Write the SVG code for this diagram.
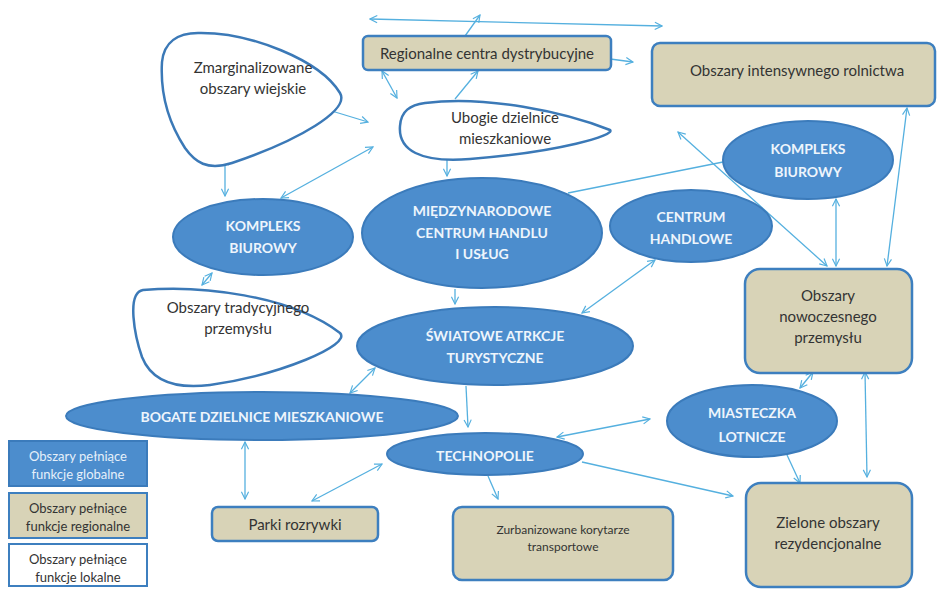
<svg xmlns="http://www.w3.org/2000/svg" width="938" height="589" viewBox="0 0 938 589">
<style>
text{font-family:Lato,"Open Sans","Liberation Sans",sans-serif;text-anchor:middle;dominant-baseline:central}
.ell{fill:#4c8dcd;stroke:#3b7bbb;stroke-width:2}
.et{fill:#eef5fc;font-weight:bold;font-size:14px}
.box{fill:#d8d3b7;stroke:#3d7fbf;stroke-width:2.5}
.bt{fill:#333;font-size:15px}
.blob{fill:#fff;stroke:#3b79b7;stroke-width:2.5}
.conn line,.conn path{stroke:#55b0df;stroke-width:1.3;fill:none}
.lg{font-size:13px}
</style>
<defs>
<marker id="ah" viewBox="0 0 10 10" refX="9" refY="5" markerWidth="9" markerHeight="9" markerUnits="userSpaceOnUse" orient="auto-start-reverse">
<path d="M1,1 L9,5 L1,9" fill="none" stroke="#55b0df" stroke-width="1.3"/>
</marker>
</defs>
<rect width="938" height="589" fill="#fff"/>

<g class="conn">
<line x1="370" y1="19" x2="662" y2="26" marker-start="url(#ah)" marker-end="url(#ah)"/>
<line x1="465" y1="36" x2="480" y2="15" marker-end="url(#ah)"/>
<line x1="595" y1="57" x2="633" y2="62" marker-start="url(#ah)" marker-end="url(#ah)"/>
<line x1="382" y1="71" x2="397" y2="98" marker-start="url(#ah)" marker-end="url(#ah)"/>
<line x1="455" y1="99" x2="478" y2="71" marker-end="url(#ah)"/>
<line x1="312" y1="105" x2="368" y2="122" marker-start="url(#ah)" marker-end="url(#ah)"/>
<line x1="373" y1="147" x2="281" y2="198" marker-start="url(#ah)" marker-end="url(#ah)"/>
<line x1="225" y1="158" x2="225" y2="196" marker-start="url(#ah)" marker-end="url(#ah)"/>
<line x1="212" y1="273" x2="202" y2="285" marker-start="url(#ah)" marker-end="url(#ah)"/>
<line x1="447" y1="160" x2="447" y2="176" marker-end="url(#ah)"/>
<line x1="455" y1="289" x2="455" y2="304" marker-end="url(#ah)"/>
<line x1="568" y1="193" x2="723" y2="162"/>
<line x1="678" y1="132" x2="827" y2="266" marker-start="url(#ah)" marker-end="url(#ah)"/>
<line x1="836" y1="199" x2="836" y2="266" marker-start="url(#ah)" marker-end="url(#ah)"/>
<line x1="907" y1="108" x2="887" y2="266" marker-start="url(#ah)" marker-end="url(#ah)"/>
<line x1="655" y1="260" x2="582" y2="313" marker-start="url(#ah)" marker-end="url(#ah)"/>
<line x1="813" y1="372" x2="800" y2="388" marker-start="url(#ah)" marker-end="url(#ah)"/>
<line x1="865" y1="372" x2="867" y2="477" marker-start="url(#ah)" marker-end="url(#ah)"/>
<line x1="787" y1="455" x2="800" y2="483" marker-end="url(#ah)"/>
<line x1="557" y1="437" x2="650" y2="419" marker-start="url(#ah)" marker-end="url(#ah)"/>
<line x1="582" y1="462" x2="733" y2="496" marker-end="url(#ah)"/>
<line x1="488" y1="476" x2="498" y2="499" marker-end="url(#ah)"/>
<line x1="466" y1="386" x2="468" y2="427" marker-end="url(#ah)"/>
<line x1="375" y1="368" x2="350" y2="393" marker-start="url(#ah)" marker-end="url(#ah)"/>
<line x1="245" y1="442" x2="245" y2="499" marker-start="url(#ah)" marker-end="url(#ah)"/>
<line x1="312" y1="501" x2="382" y2="464" marker-start="url(#ah)" marker-end="url(#ah)"/>
</g>

<g id="regionalne-centra">
<rect class="box" x="363" y="36" width="248" height="34" rx="5"/>
<text class="bt" x="487" y="53">Regionalne centra dystrybucyjne</text>
</g>
<g id="intensywne-rolnictwo">
<rect class="box" x="652" y="43" width="283" height="63" rx="8"/>
<text class="bt" x="797" y="70">Obszary intensywnego rolnictwa</text>
</g>
<g id="zmarginalizowane">
<path class="blob" d="M198,33 C250,32 320,60 340,93 C350,110 300,140 232,163 C207,171 195,162 185,148 C170,125 160,95 162,62 C164,42 178,33 198,33 Z"/>
<text class="bt" x="253" y="67">Zmarginalizowane</text>
<text class="bt" x="253" y="88">obszary wiejskie</text>
</g>
<g id="ubogie-dzielnice">
<path class="blob" d="M425,103 C485,95 565,112 610,130 C616,135 560,152 470,159 C420,163 398,150 400,126 C401,111 410,105 425,103 Z"/>
<text class="bt" x="505" y="117">Ubogie dzielnice</text>
<text class="bt" x="505" y="138">mieszkaniowe</text>
</g>
<g id="kompleks-biurowy-1">
<ellipse class="ell" cx="263" cy="237" rx="90" ry="38"/>
<text class="et" x="263" y="225">KOMPLEKS</text>
<text class="et" x="263" y="247">BIUROWY</text>
</g>
<g id="tradycyjny-przemysl">
<path class="blob" d="M143,290 C200,285 290,295 340,333 C352,345 280,375 210,385 C170,390 150,377 142,357 C135,337 126,293 143,290 Z"/>
<text class="bt" x="238" y="307">Obszary tradycyjnego</text>
<text class="bt" x="238" y="328">przemysłu</text>
</g>
<g id="miedzynarodowe-centrum">
<ellipse class="ell" cx="482" cy="233" rx="120" ry="55"/>
<text class="et" x="482" y="210">MIĘDZYNARODOWE</text>
<text class="et" x="482" y="232">CENTRUM HANDLU</text>
<text class="et" x="482" y="253">I USŁUG</text>
</g>
<g id="centrum-handlowe">
<ellipse class="ell" cx="691" cy="226" rx="81" ry="36"/>
<text class="et" x="691" y="216">CENTRUM</text>
<text class="et" x="691" y="238">HANDLOWE</text>
</g>
<g id="kompleks-biurowy-2">
<ellipse class="ell" cx="808" cy="160" rx="85" ry="39"/>
<text class="et" x="808" y="148">KOMPLEKS</text>
<text class="et" x="808" y="171">BIUROWY</text>
</g>
<g id="nowoczesny-przemysl">
<rect class="box" x="745" y="269" width="167" height="104" rx="15"/>
<text class="bt" x="828" y="295">Obszary</text>
<text class="bt" x="828" y="316">nowoczesnego</text>
<text class="bt" x="828" y="337">przemysłu</text>
</g>
<g id="swiatowe-atrakcje">
<ellipse class="ell" cx="495" cy="346" rx="138" ry="39"/>
<text class="et" x="495" y="335">ŚWIATOWE ATRKCJE</text>
<text class="et" x="495" y="357">TURYSTYCZNE</text>
</g>
<g id="bogate-dzielnice">
<ellipse class="ell" cx="262" cy="416" rx="196" ry="24"/>
<text class="et" x="262" y="416">BOGATE DZIELNICE MIESZKANIOWE</text>
</g>
<g id="technopolie">
<ellipse class="ell" cx="485" cy="454" rx="98" ry="21"/>
<text class="et" x="485" y="455">TECHNOPOLIE</text>
</g>
<g id="miasteczka-lotnicze">
<ellipse class="ell" cx="752" cy="421" rx="85" ry="36"/>
<text class="et" x="752" y="412">MIASTECZKA</text>
<text class="et" x="752" y="436">LOTNICZE</text>
</g>
<g id="parki-rozrywki">
<rect class="box" x="212" y="507" width="166" height="34" rx="6"/>
<text class="bt" x="295" y="524">Parki rozrywki</text>
</g>
<g id="korytarze-transportowe">
<rect class="box" x="453" y="507" width="220" height="73" rx="9"/>
<text class="bt" x="563" y="529" style="font-size:12px">Zurbanizowane korytarze</text>
<text class="bt" x="563" y="546" style="font-size:12px">transportowe</text>
</g>
<g id="zielone-obszary">
<rect class="box" x="746" y="483" width="166" height="104" rx="15"/>
<text class="bt" x="828" y="522">Zielone obszary</text>
<text class="bt" x="828" y="543">rezydencjonalne</text>
</g>

<g id="legenda-globalne">
<rect x="9" y="441" width="138" height="45" fill="#4c8dcd" stroke="#3b7bbb" stroke-width="2"/>
<text class="lg" x="78" y="456" fill="#e6f0fa">Obszary pełniące</text>
<text class="lg" x="78" y="474" fill="#e6f0fa">funkcje globalne</text>
</g>
<g id="legenda-regionalne">
<rect x="9" y="493" width="138" height="45" fill="#d8d3b7" stroke="#3d7fbf" stroke-width="2"/>
<text class="lg" x="78" y="508" fill="#333">Obszary pełniące</text>
<text class="lg" x="78" y="526" fill="#333">funkcje regionalne</text>
</g>
<g id="legenda-lokalne">
<rect x="9" y="544" width="138" height="42" fill="#fff" stroke="#3d7fbf" stroke-width="2"/>
<text class="lg" x="78" y="559" fill="#333">Obszary pełniące</text>
<text class="lg" x="78" y="577" fill="#333">funkcje lokalne</text>
</g>
</svg>
